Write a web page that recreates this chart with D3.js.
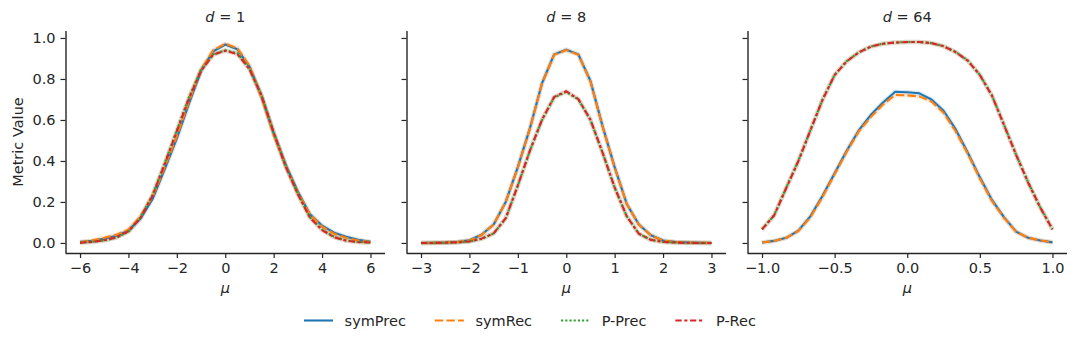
<!DOCTYPE html>
<html>
<head>
<meta charset="utf-8">
<script src="https://cdn.jsdelivr.net/npm/d3@7"></script>
<style>
  body { margin: 0; background: #fff; }
  text { font-family: "DejaVu Sans", sans-serif; fill: #262626; }
</style>
</head>
<body>
<svg id="chart" width="1079" height="346"></svg>
<script>
// data
const dims = [1, 8, 64];
const metrics = ["symPrec", "symRec", "P-Prec", "P-Rec"];
const colors = ["#1f77b4", "#ff7f0e", "#2ca02c", "#d62728"];
const dashes = ["", "4,1.5", "1,1", "3,1.25,1.5,1.25"]; // in units of line width

const xTicks_d1 = [-6, -4, -2, 0, 2, 4, 6];
const xTicks_d8 = [-3, -2, -1, 0, 1, 2, 3];
const xTicks_d64 = [-1, -0.5, 0, 0.5, 1];
const yTicks = [0, 0.2, 0.4, 0.6, 0.8, 1.0];

const mu_d1 = [-6, -5.5, -5, -4.5, -4, -3.5, -3, -2.5, -2, -1.5, -1, -0.5, 0, 0.5, 1, 1.5, 2, 2.5, 3, 3.5, 4, 4.5, 5, 5.5, 6];
const symPrec_d1 = [0.005, 0.01, 0.02, 0.035, 0.06, 0.12, 0.215, 0.36, 0.51, 0.68, 0.84, 0.935, 0.968, 0.945, 0.86, 0.715, 0.535, 0.38, 0.25, 0.14, 0.085, 0.05, 0.03, 0.015, 0.006];
const symRec_d1  = [0.003, 0.012, 0.025, 0.04, 0.065, 0.13, 0.225, 0.37, 0.52, 0.69, 0.845, 0.94, 0.972, 0.95, 0.865, 0.71, 0.53, 0.375, 0.245, 0.14, 0.08, 0.045, 0.025, 0.012, 0.005];
const pPrec_d1   = [0.002, 0.006, 0.012, 0.025, 0.055, 0.125, 0.235, 0.39, 0.55, 0.71, 0.845, 0.92, 0.94, 0.925, 0.85, 0.72, 0.54, 0.375, 0.24, 0.125, 0.065, 0.03, 0.012, 0.005, 0.002];
const pRec_d1    = [0.001, 0.005, 0.013, 0.027, 0.057, 0.122, 0.232, 0.385, 0.545, 0.705, 0.84, 0.918, 0.938, 0.922, 0.848, 0.718, 0.538, 0.372, 0.238, 0.123, 0.063, 0.028, 0.011, 0.004, 0.002];

const mu_d8 = [-3, -2.75, -2.5, -2.25, -2, -1.75, -1.5, -1.25, -1, -0.75, -0.5, -0.25, 0, 0.25, 0.5, 0.75, 1, 1.25, 1.5, 1.75, 2, 2.25, 2.5, 2.75, 3];
const symPrec_d8 = [0, 0.001, 0.002, 0.005, 0.013, 0.04, 0.09, 0.2, 0.37, 0.56, 0.78, 0.92, 0.943, 0.92, 0.79, 0.57, 0.37, 0.19, 0.09, 0.038, 0.012, 0.005, 0.002, 0.001, 0];
const symRec_d8  = [0, 0.001, 0.002, 0.005, 0.012, 0.039, 0.09, 0.2, 0.368, 0.558, 0.778, 0.918, 0.941, 0.918, 0.788, 0.568, 0.368, 0.19, 0.089, 0.037, 0.012, 0.005, 0.002, 0.001, 0];
const pPrec_d8   = [0, 0, 0.001, 0.003, 0.007, 0.02, 0.046, 0.12, 0.28, 0.45, 0.6, 0.71, 0.737, 0.7, 0.6, 0.44, 0.27, 0.13, 0.045, 0.015, 0.005, 0.002, 0.001, 0, 0];
const pRec_d8    = [0, 0, 0.001, 0.003, 0.007, 0.021, 0.047, 0.121, 0.281, 0.451, 0.602, 0.712, 0.74, 0.702, 0.601, 0.441, 0.271, 0.13, 0.045, 0.015, 0.005, 0.002, 0.001, 0, 0];

const mu_d64 = [-1, -0.917, -0.833, -0.75, -0.667, -0.583, -0.5, -0.417, -0.333, -0.25, -0.167, -0.083, 0, 0.083, 0.167, 0.25, 0.333, 0.417, 0.5, 0.583, 0.667, 0.75, 0.833, 0.917, 1];
const symPrec_d64 = [0.002, 0.01, 0.025, 0.06, 0.13, 0.23, 0.34, 0.45, 0.55, 0.625, 0.685, 0.738, 0.735, 0.73, 0.7, 0.645, 0.555, 0.44, 0.32, 0.21, 0.125, 0.055, 0.025, 0.012, 0.003];
const symRec_d64  = [0.002, 0.01, 0.025, 0.058, 0.125, 0.225, 0.335, 0.445, 0.545, 0.615, 0.675, 0.722, 0.72, 0.715, 0.69, 0.635, 0.545, 0.435, 0.315, 0.205, 0.122, 0.054, 0.025, 0.012, 0.003];
const pPrec_d64   = [0.067, 0.135, 0.27, 0.4, 0.55, 0.7, 0.82, 0.887, 0.93, 0.958, 0.972, 0.978, 0.98, 0.98, 0.975, 0.96, 0.932, 0.89, 0.82, 0.72, 0.575, 0.43, 0.295, 0.172, 0.067];
const pRec_d64    = [0.066, 0.134, 0.268, 0.399, 0.549, 0.699, 0.819, 0.886, 0.93, 0.958, 0.972, 0.978, 0.98, 0.98, 0.975, 0.96, 0.931, 0.889, 0.819, 0.719, 0.574, 0.429, 0.294, 0.171, 0.066];

// build panel table from the arrays
const panelData = [
  { d: dims[0], mu: mu_d1, ticks: xTicks_d1, fmt: d3.format("d"), series: [symPrec_d1, symRec_d1, pPrec_d1, pRec_d1] },
  { d: dims[1], mu: mu_d8, ticks: xTicks_d8, fmt: d3.format("d"), series: [symPrec_d8, symRec_d8, pPrec_d8, pRec_d8] },
  { d: dims[2], mu: mu_d64, ticks: xTicks_d64, fmt: d3.format(".1f"), series: [symPrec_d64, symRec_d64, pPrec_d64, pRec_d64] }
];

const fontSize = 14.5;
const lw = 2.1;
const ink = "#262626";
const plotTop = 31, plotBottom = 253;
const panelW = 319.5, panelGap = 21.5, left0 = 65.5;

const svg = d3.select("#chart");

const y = d3.scaleLinear().domain([-0.049, 1.034]).range([plotBottom, plotTop]);

const dashFor = (k) => dashes[k] ? dashes[k].split(",").map((v) => +v * lw).join(",") : null;

panelData.forEach((p, i) => {
  const x0 = left0 + i * (panelW + panelGap);
  const ext = d3.extent(p.mu);
  const pad = (ext[1] - ext[0]) * 0.05;
  const x = d3.scaleLinear().domain([ext[0] - pad, ext[1] + pad]).range([x0, x0 + panelW]);

  const g = svg.append("g");

  // title with italic d
  const t = g.append("text")
    .attr("x", x0 + panelW / 2).attr("y", 21.5)
    .attr("text-anchor", "middle")
    .style("font-size", fontSize + "px");
  t.append("tspan").style("font-style", "italic").text("d");
  t.append("tspan").text(" = " + p.d);

  // lines: faint band halo, then the styled line
  const line = d3.line().x((d) => x(d[0])).y((d) => y(d[1]));
  p.series.forEach((vals, k) => {
    const pts = p.mu.map((m, j) => [m, vals[j]]);
    g.append("path").datum(pts)
      .attr("d", line)
      .attr("fill", "none")
      .attr("stroke", colors[k])
      .attr("stroke-opacity", 0.15)
      .attr("stroke-width", 4.5)
      .attr("stroke-linejoin", "round");
  });
  p.series.forEach((vals, k) => {
    const pts = p.mu.map((m, j) => [m, vals[j]]);
    g.append("path").datum(pts)
      .attr("d", line)
      .attr("fill", "none")
      .attr("stroke", colors[k])
      .attr("stroke-width", lw)
      .attr("stroke-linejoin", "round")
      .attr("stroke-dasharray", dashFor(k));
  });

  // axes
  const xAxis = d3.axisBottom(x).tickValues(p.ticks).tickFormat(p.fmt).tickSize(5).tickPadding(5);
  const gx = g.append("g").attr("transform", `translate(0,${plotBottom})`).call(xAxis);
  gx.select(".domain").attr("d", `M${x0},0.5H${x0 + panelW}`);

  const yAxis = d3.axisLeft(y).tickValues(yTicks).tickFormat(i === 0 ? d3.format(".1f") : () => "").tickSize(5).tickPadding(5);
  const gy = g.append("g").attr("transform", `translate(${x0},0)`).call(yAxis);
  gy.select(".domain").attr("d", `M0.5,${plotTop}V${plotBottom}`);

  [gx, gy].forEach((a) => {
    a.selectAll(".domain").attr("stroke", ink).attr("stroke-width", 1.4);
    a.selectAll(".tick line").attr("stroke", ink).attr("stroke-width", 1.2);
    a.selectAll(".tick text").style("font-size", fontSize + "px").attr("fill", ink)
      .style("font-family", "DejaVu Sans");
  });

  // x label
  g.append("text")
    .attr("x", x0 + panelW / 2).attr("y", 293)
    .attr("text-anchor", "middle")
    .style("font-size", fontSize + "px")
    .style("font-style", "italic")
    .text("μ");
});

// y label
svg.append("text")
  .attr("transform", `translate(23,${(plotTop + plotBottom) / 2}) rotate(-90)`)
  .attr("text-anchor", "middle")
  .style("font-size", fontSize + "px")
  .text("Metric Value");

// legend
const legend = svg.append("g").attr("transform", "translate(0,320.5)");
let lx = 304;
metrics.forEach((m, k) => {
  legend.append("line")
    .attr("x1", lx).attr("x2", lx + 29)
    .attr("y1", 0).attr("y2", 0)
    .attr("stroke", colors[k])
    .attr("stroke-width", lw)
    .attr("stroke-dasharray", dashFor(k));
  const txt = legend.append("text")
    .attr("x", lx + 29 + 11.6).attr("y", 0).attr("dy", "0.36em")
    .style("font-size", fontSize + "px")
    .text(m);
  lx += 29 + 11.6 + txt.node().getComputedTextLength() + 29;
});
</script>
</body>
</html>
